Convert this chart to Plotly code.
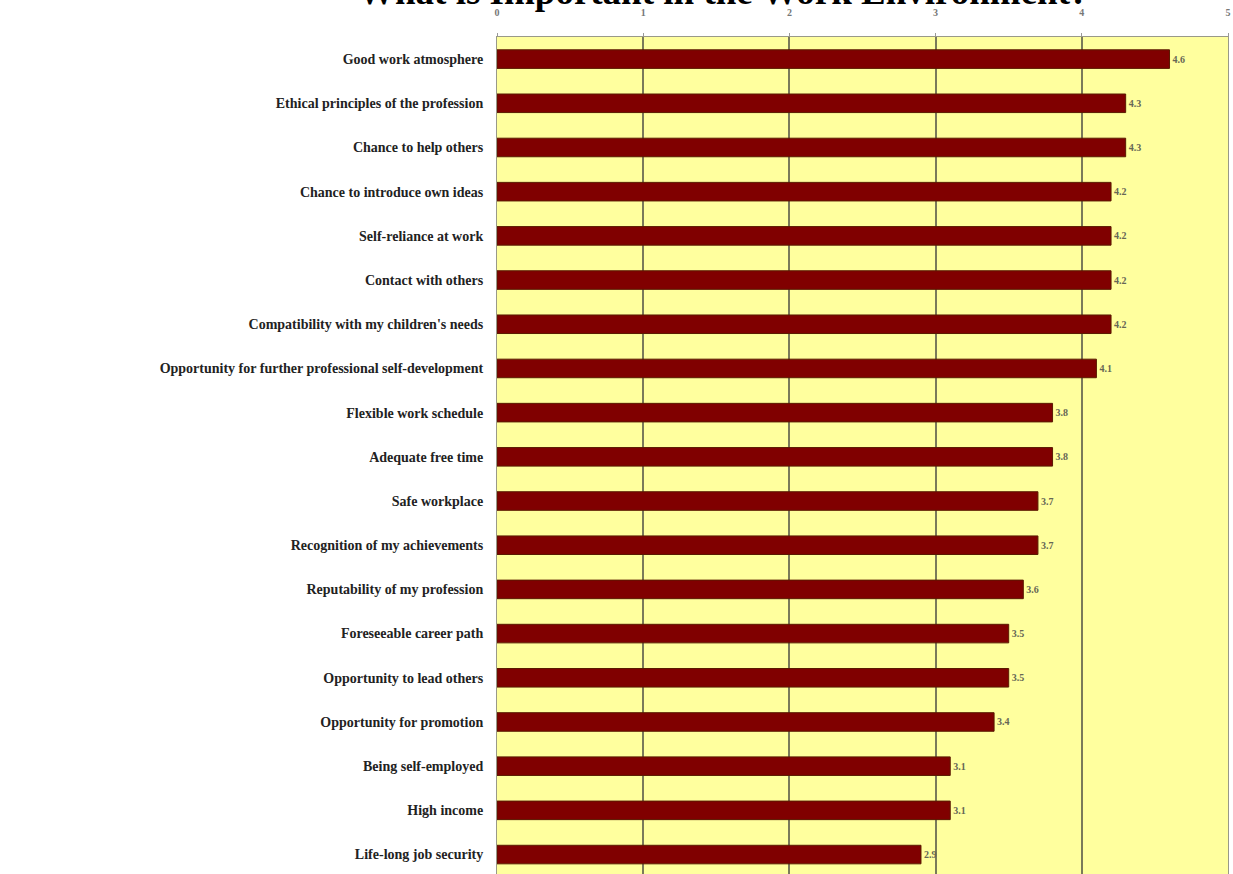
import plotly.graph_objects as go

categories = [
    "Good work atmosphere",
    "Ethical principles of the profession",
    "Chance to help others",
    "Chance to introduce own ideas",
    "Self-reliance at work",
    "Contact with others",
    "Compatibility with my children's needs",
    "Opportunity for further professional self-development",
    "Flexible work schedule",
    "Adequate free time",
    "Safe workplace",
    "Recognition of my achievements",
    "Reputability of my profession",
    "Foreseeable career path",
    "Opportunity to lead others",
    "Opportunity for promotion",
    "Being self-employed",
    "High income",
    "Life-long job security",
]
values = [4.6, 4.3, 4.3, 4.2, 4.2, 4.2, 4.2, 4.1, 3.8, 3.8, 3.7, 3.7, 3.6, 3.5, 3.5, 3.4, 3.1, 3.1, 2.9]
x_ticks = [0, 1, 2, 3, 4, 5]

serif = "Liberation Serif, Times New Roman, serif"

fig = go.Figure(go.Bar(
    x=values,
    y=categories,
    orientation="h",
    width=0.42,
    marker=dict(color="#800000", line=dict(color="#5a1a00", width=1)),
    text=[f"<b>{v:.1f}</b>" for v in values],
    textposition="outside",
    textfont=dict(family=serif, size=10, color="#666655"),
    cliponaxis=False,
))

fig.update_layout(
    width=1233,
    height=874,
    margin=dict(l=497, r=5, t=37, b=0, autoexpand=False),
    paper_bgcolor="white",
    plot_bgcolor="#FFFF9E",
    showlegend=False,
    annotations=[dict(
        text="<b>What is Important in the Work Environment?</b>",
        x=0.31, xref="paper", y=1, yref="paper", yshift=23,
        xanchor="center", yanchor="bottom", showarrow=False,
        font=dict(family=serif, size=37, color="black"),
    )],
)

fig.update_xaxes(
    side="top",
    range=[0, 5],
    tickvals=x_ticks,
    ticktext=[f"<b>{t}</b>" for t in x_ticks],
    tickfont=dict(family=serif, size=10, color="#777777"),
    ticks="outside", ticklen=3, tickcolor="#999999",
    ticklabelstandoff=13,
    ticklabeloverflow="allow",
    automargin=False,
    showgrid=True, gridcolor="#7a7a5a", gridwidth=1.5,
    showline=True, linecolor="#999988", linewidth=1, mirror=True,
    zeroline=False,
)
fig.update_yaxes(
    categoryorder="array",
    categoryarray=categories,
    range=[18.44, -0.5],
    tickvals=categories,
    ticktext=[f"<b>{c}</b>" for c in categories],
    tickfont=dict(family=serif, size=14, color="#222222"),
    ticklabelstandoff=10,
    automargin=False,
    showgrid=False,
    showline=True, linecolor="#999988", linewidth=1, mirror=True,
)

fig.write_html(
    "out.html",
    config={"displayModeBar": False},
    post_script="document.body.style.margin='0';document.body.style.overflow='hidden';",
)
